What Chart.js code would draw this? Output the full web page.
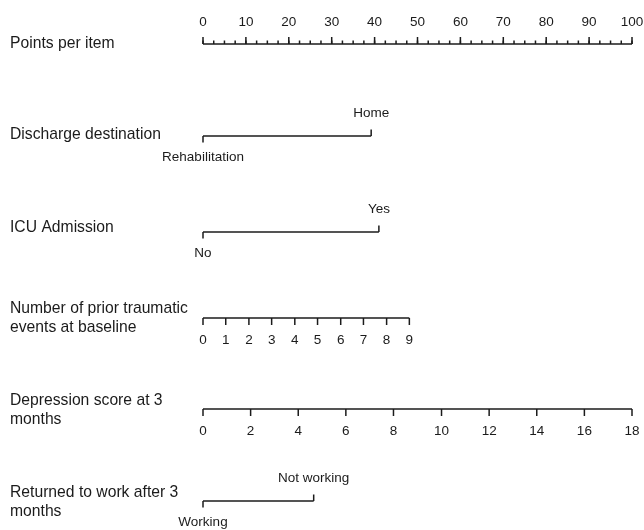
<!DOCTYPE html>
<html>
<head>
<meta charset="utf-8">
<title>Nomogram</title>
<script src="https://cdn.jsdelivr.net/npm/chart.js@4/dist/chart.umd.min.js"></script>
<style>
  html, body { margin: 0; padding: 0; background: #ffffff; }
  #wrap { width: 644px; height: 530px; }
</style>
</head>
<body>
<div id="wrap"><canvas id="nomo" width="644" height="530"></canvas></div>
<script>
// ---- Nomogram content ----
// Points scale
const pointTickLabels = [0, 10, 20, 30, 40, 50, 60, 70, 80, 90, 100];
const pointMinorTicks = [0, 2.5, 5, 7.5, 10, 12.5, 15, 17.5, 20, 22.5, 25, 27.5, 30, 32.5, 35, 37.5,
  40, 42.5, 45, 47.5, 50, 52.5, 55, 57.5, 60, 62.5, 65, 67.5, 70, 72.5, 75, 77.5, 80, 82.5, 85,
  87.5, 90, 92.5, 95, 97.5, 100];

// Discharge destination
const dischargeLevels = ['Rehabilitation', 'Home'];
const dischargePoints = [0, 39.2];

// ICU admission
const icuLevels = ['No', 'Yes'];
const icuPoints = [0, 41.0];

// Number of prior traumatic events at baseline
const traumaValues = ['0', '1', '2', '3', '4', '5', '6', '7', '8', '9'];
const traumaPoints = [0, 5.3, 10.7, 16.0, 21.4, 26.7, 32.1, 37.4, 42.8, 48.1];

// Depression score at 3 months
const depressionValues = ['0', '2', '4', '6', '8', '10', '12', '14', '16', '18'];
const depressionPoints = [0, 11.1, 22.2, 33.3, 44.4, 55.6, 66.7, 77.8, 88.9, 100];

// Returned to work after 3 months
const workLevels = ['Working', 'Not working'];
const workPoints = [0, 25.8];

// Row titles
const rowTitles = [
  ['Points per item'],
  ['Discharge destination'],
  ['ICU Admission'],
  ['Number of prior traumatic', 'events at baseline'],
  ['Depression score at 3', 'months'],
  ['Returned to work after 3', 'months']
];

// ---- Layout (canvas pixels along the vertical) ----
const rowLineY = [44, 136, 232, 318, 409, 501];
const rowTitleY = [44, 135, 228, 318, 410, 502];
const INK = '#1b1b1b';
const TITLE_FONT = '15.7px "Liberation Sans", Arial, Helvetica, sans-serif';
const TICK_FONT = '13.5px "Liberation Sans", Arial, Helvetica, sans-serif';

// One axis line per row: [start, end] in points
function rowLine(pts, row) {
  return {
    data: [{ x: pts[0], y: rowLineY[row] }, { x: pts[pts.length - 1], y: rowLineY[row] }],
    showLine: true,
    borderColor: INK,
    borderWidth: 1.5,
    pointRadius: 0,
    pointHoverRadius: 0,
    clip: false
  };
}

const datasets = [
  rowLine(pointTickLabels, 0),
  rowLine(dischargePoints, 1),
  rowLine(icuPoints, 2),
  rowLine(traumaPoints, 3),
  rowLine(depressionPoints, 4),
  rowLine(workPoints, 5)
];

// Ticks, tick labels and row titles
const nomogramDecor = {
  id: 'nomogramDecor',
  afterDatasetsDraw(chart) {
    const ctx = chart.ctx;
    const xs = chart.scales.x;
    const ys = chart.scales.y;
    const px = v => xs.getPixelForValue(v);
    const py = v => ys.getPixelForValue(v);

    ctx.save();
    ctx.strokeStyle = INK;
    ctx.fillStyle = INK;
    ctx.lineWidth = 1.5;

    function tick(x, y, len) {
      ctx.beginPath();
      ctx.moveTo(x, y);
      ctx.lineTo(x, y + len);
      ctx.stroke();
    }
    function label(text, x, y) {
      ctx.font = TICK_FONT;
      ctx.textAlign = 'center';
      ctx.textBaseline = 'middle';
      ctx.fillText(text, x, y);
    }

    // Points axis: ticks point upward, labels above
    const y0 = py(rowLineY[0]);
    pointMinorTicks.forEach(v => tick(px(v), y0, -3.5));
    pointTickLabels.forEach(v => {
      tick(px(v), y0, -7);
      label(String(v), px(v), y0 - 22);
    });

    // Two-level factors: first level ticks down with label below, second ticks up with label above
    function factorRow(levels, pts, row) {
      const y = py(rowLineY[row]);
      tick(px(pts[0]), y, 6.5);
      label(levels[0], px(pts[0]), y + 21.5);
      tick(px(pts[1]), y, -6.5);
      label(levels[1], px(pts[1]), y - 23);
    }
    factorRow(dischargeLevels, dischargePoints, 1);
    factorRow(icuLevels, icuPoints, 2);
    factorRow(workLevels, workPoints, 5);

    // Continuous axes: ticks down, labels below
    function continuousRow(values, pts, row) {
      const y = py(rowLineY[row]);
      pts.forEach((p, i) => {
        tick(px(p), y, 7);
        label(values[i], px(p), y + 22.5);
      });
    }
    continuousRow(traumaValues, traumaPoints, 3);
    continuousRow(depressionValues, depressionPoints, 4);

    // Row titles on the left
    ctx.font = TITLE_FONT;
    ctx.textAlign = 'left';
    ctx.textBaseline = 'middle';
    rowTitles.forEach((lines, r) => {
      const c = py(rowTitleY[r]);
      const lh = 19;
      const top = c - (lines.length - 1) * lh / 2;
      lines.forEach((t, k) => ctx.fillText(t, 10, top + k * lh));
    });

    ctx.restore();
  }
};

new Chart(document.getElementById('nomo'), {
  type: 'scatter',
  data: { datasets },
  options: {
    responsive: false,
    devicePixelRatio: 1,
    animation: false,
    events: [],
    layout: { padding: { left: 203, right: 12, top: 0, bottom: 0 } },
    plugins: {
      legend: { display: false },
      tooltip: { enabled: false },
      title: { display: false }
    },
    scales: {
      x: { type: 'linear', min: 0, max: 100, display: false },
      y: { type: 'linear', min: 0, max: 530, reverse: true, display: false }
    }
  },
  plugins: [nomogramDecor]
});
</script>
</body>
</html>
